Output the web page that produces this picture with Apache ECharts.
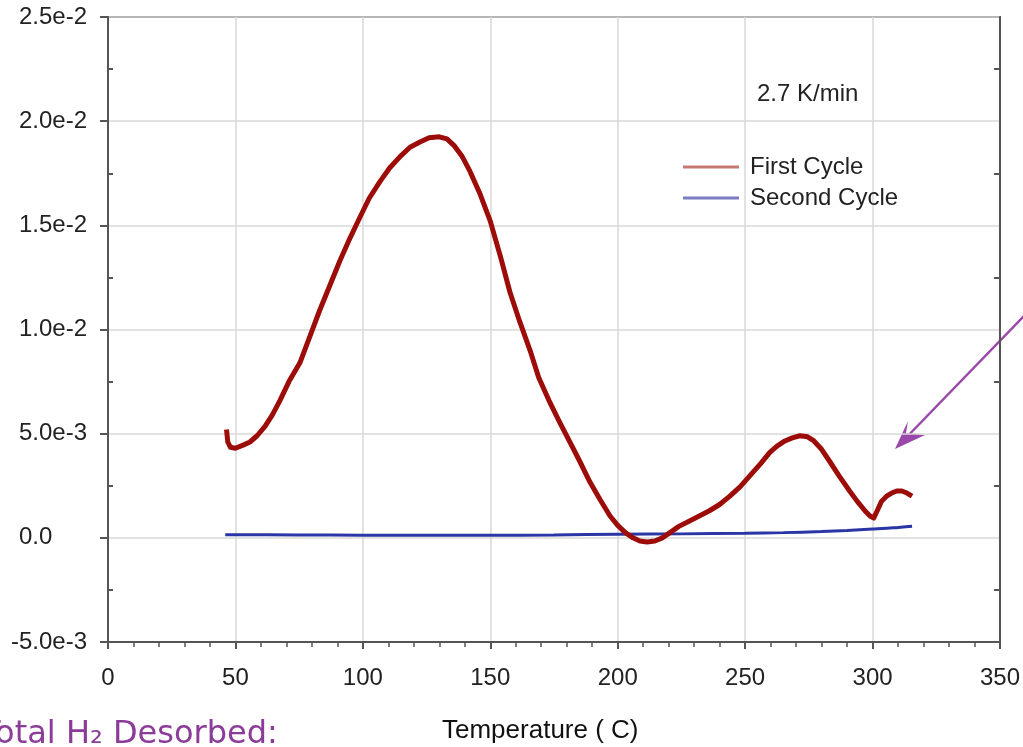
<!DOCTYPE html>
<html>
<head>
<meta charset="utf-8">
<script src="https://cdn.jsdelivr.net/npm/echarts@6/dist/echarts.min.js"></script>
<style>
html, body { margin: 0; padding: 0; background: #fff; }
#main { width: 1023px; height: 747px; }
</style>
</head>
<body>
<div id="main"></div>
<script>
// First cycle desorption (temperature in C, rate)
var firstTemp = [46.5, 47, 48, 50, 53, 55.7, 58.5, 61.6, 64.5, 67.5, 71, 75.3, 79, 83, 87, 91, 95, 98.9, 102.5, 106.7, 110.5, 114.6, 118.5, 122.4, 126, 130, 133, 136, 139, 142, 146, 150, 154, 157.7, 161.5, 165.6, 169, 173, 177, 181, 185, 189, 193, 197, 200, 203, 206, 208.7, 211.5, 214.6, 217.5, 220.5, 224, 228, 232, 236, 240, 244, 248, 252, 256, 259.7, 262.5, 265.6, 268.5, 271.5, 274.5, 277, 280, 283, 287, 291, 294, 297, 299, 300.5, 302, 303.5, 305.5, 307.5, 309.5, 311.5, 313.5, 315.5];
var firstRate = [5.2e-3, 4.6e-3, 4.35e-3, 4.3e-3, 4.45e-3, 4.6e-3, 4.9e-3, 5.35e-3, 5.9e-3, 6.6e-3, 7.5e-3, 8.4e-3, 9.6e-3, 10.9e-3, 12.1e-3, 13.3e-3, 14.4e-3, 15.4e-3, 16.3e-3, 17.1e-3, 17.75e-3, 18.3e-3, 18.75e-3, 19.0e-3, 19.2e-3, 19.25e-3, 19.15e-3, 18.8e-3, 18.3e-3, 17.6e-3, 16.5e-3, 15.2e-3, 13.5e-3, 11.8e-3, 10.4e-3, 9.0e-3, 7.7e-3, 6.6e-3, 5.6e-3, 4.65e-3, 3.7e-3, 2.7e-3, 1.85e-3, 1.05e-3, 0.6e-3, 0.25e-3, 0.0, -0.15e-3, -0.2e-3, -0.15e-3, 0.0, 0.25e-3, 0.55e-3, 0.8e-3, 1.05e-3, 1.3e-3, 1.6e-3, 2.0e-3, 2.45e-3, 3.0e-3, 3.55e-3, 4.1e-3, 4.4e-3, 4.65e-3, 4.8e-3, 4.9e-3, 4.85e-3, 4.65e-3, 4.25e-3, 3.7e-3, 2.95e-3, 2.25e-3, 1.75e-3, 1.3e-3, 1.05e-3, 0.95e-3, 1.35e-3, 1.75e-3, 2.0e-3, 2.15e-3, 2.25e-3, 2.25e-3, 2.15e-3, 2.0e-3];

// Second cycle
var secondTemp = [46, 75, 100, 125, 150, 175, 200, 225, 250, 265, 280, 290, 300, 308, 315.5];
var secondRate = [0.15e-3, 0.14e-3, 0.13e-3, 0.12e-3, 0.12e-3, 0.14e-3, 0.17e-3, 0.19e-3, 0.22e-3, 0.25e-3, 0.3e-3, 0.35e-3, 0.42e-3, 0.48e-3, 0.56e-3];

var xTicks = [0, 50, 100, 150, 200, 250, 300, 350];
var yTicks = [-5e-3, 0, 5e-3, 1e-2, 1.5e-2, 2e-2, 2.5e-2];

var seriesNames = ["First Cycle", "Second Cycle"];

function pairUp(xs, ys) {
    var out = [];
    for (var i = 0; i < xs.length; i++) {
        out.push([xs[i], ys[i]]);
    }
    return out;
}

// zero label keeps the width of the others (hidden tail) so it sits left
function fmtY(v) {
    if (Math.abs(v) < 1e-12) return "0.0{h|e-3}";
    return v.toExponential(1);
}

var font = "Liberation Sans, Arial, sans-serif";
var axisCol = "#555";
var gridCol = "#d9d9d9";
var yMin = yTicks[0], yMax = yTicks[yTicks.length - 1];
var xMin = xTicks[0], xMax = xTicks[xTicks.length - 1];

var myChart = echarts.init(document.getElementById("main"));
var option = {
    backgroundColor: "#fff",
    animation: false,
    grid: {
        left: 108, right: 23, top: 17, bottom: 105,
        show: true, borderColor: axisCol, borderWidth: 2, backgroundColor: "transparent"
    },
    legend: {
        orient: "vertical",
        left: 678, top: 150,
        itemGap: 7,
        itemWidth: 56, itemHeight: 3,
        icon: "rect",
        textStyle: { fontFamily: font, fontSize: 24, color: "#222", padding: [0, 0, 0, 6] },
        data: [
            { name: seriesNames[0], itemStyle: { color: "#c47a72" } },
            { name: seriesNames[1], itemStyle: { color: "#7c7cc4" } }
        ]
    },
    xAxis: [{
        type: "value",
        min: xMin, max: xMax, interval: 50,
        axisLine: { onZero: false, lineStyle: { color: axisCol, width: 2 } },
        axisTick: { show: true, length: 7, lineStyle: { color: axisCol, width: 2 } },
        minorTick: { show: true, splitNumber: 5, length: 5, lineStyle: { color: axisCol, width: 1.5 } },
        axisLabel: { fontFamily: font, fontSize: 24, color: "#222", margin: 24 },
        splitLine: { show: true, lineStyle: { color: gridCol, width: 1.5 } }
    }],
    yAxis: [{
        type: "value",
        min: yMin, max: yMax, interval: 5e-3,
        position: "left",
        axisLine: { onZero: false, lineStyle: { color: axisCol, width: 2 } },
        axisTick: { show: true, length: 8, lineStyle: { color: axisCol, width: 2 } },
        axisLabel: {
            fontFamily: font, fontSize: 24, color: "#222", margin: 21, formatter: fmtY,
            rich: { h: { fontFamily: font, fontSize: 24, color: "rgba(0,0,0,0)" } }
        },
        splitLine: { show: true, lineStyle: { color: gridCol, width: 1.5 } }
    }, {
        type: "value",
        min: yMin, max: yMax, interval: 5e-3,
        position: "left",
        axisLine: { show: false, onZero: false },
        axisTick: { show: false, inside: true },
        minorTick: { show: true, splitNumber: 2, length: 5, lineStyle: { color: axisCol, width: 2 } },
        axisLabel: { show: false },
        splitLine: { show: false }
    }, {
        type: "value",
        min: yMin, max: yMax, interval: 5e-3,
        position: "right",
        axisLine: { show: true, onZero: false, lineStyle: { color: axisCol, width: 2 } },
        axisTick: { show: false, inside: true },
        minorTick: { show: true, splitNumber: 2, length: 6, lineStyle: { color: axisCol, width: 2 } },
        axisLabel: { show: false },
        splitLine: { show: false }
    }],
    series: [{
        name: seriesNames[0],
        type: "line",
        yAxisIndex: 0,
        data: pairUp(firstTemp, firstRate),
        showSymbol: false,
        smooth: false,
        lineStyle: { color: "#9c0d0a", width: 5, join: "round" },
        itemStyle: { color: "#9c0d0a" },
        z: 3
    }, {
        name: seriesNames[1],
        type: "line",
        yAxisIndex: 0,
        data: pairUp(secondTemp, secondRate),
        showSymbol: false,
        smooth: 0.3,
        lineStyle: { color: "#2a35a6", width: 3 },
        itemStyle: { color: "#2a35a6" },
        z: 2
    }],
    graphic: [
        {
            type: "text", left: 757, top: 82,
            style: { text: "2.7 K/min", font: "24px " + font, fill: "#222" }
        },
        {
            type: "text", left: 442, top: 718,
            style: { text: "Temperature ( C)", font: "26px " + font, fill: "#111" }
        },
        {
            type: "text", left: -19, top: 719,
            style: { text: "Total H\u2082 Desorbed:", font: "32px 'DejaVu Sans', Verdana, sans-serif", fill: "#8b3c98" }
        },
        {
            type: "line",
            shape: { x1: 1024, y1: 316, x2: 900, y2: 444 },
            style: { stroke: "#9a48aa", lineWidth: 2.5 }
        },
        {
            type: "polygon",
            shape: { points: [[895, 449], [908, 421], [906, 433], [925, 435]] },
            style: { fill: "#9a48aa" }
        }
    ]
};
myChart.setOption(option);
</script>
</body>
</html>
